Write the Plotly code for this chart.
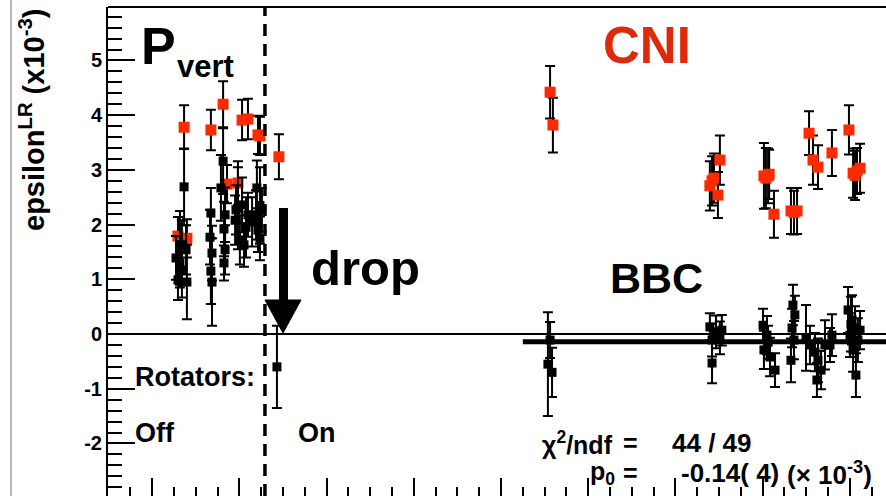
import plotly.graph_objects as go

# ---------------- data ----------------
# CNI (red markers, black error bars)
cni_x = [5.46, 6.69, 7.25, 8.12, 8.39, 8.85, 8.94, 9.81, 7.43, 7.93,
         5.18, 5.59, 22.25, 22.38, 29.58, 29.68, 29.77, 30.04, 29.95, 32.06,
         32.25, 32.52, 33.30, 33.44, 33.58, 34.13, 34.31, 34.54, 35.18, 35.96,
         36.15, 36.24, 36.47, 32.15, 32.30, 36.33]
cni_y = [3.78, 3.73, 4.20, 3.91, 3.93, 3.64, 3.62, 3.24, 2.74, 2.76,
         1.79, 1.75, 4.42, 3.82, 2.71, 2.80, 2.85, 3.18, 2.54, 2.89,
         2.89, 2.19, 2.25, 2.22, 2.25, 3.67, 3.18, 3.05, 3.31, 3.73,
         2.94, 2.90, 3.03, 2.85, 2.92, 2.98]
cni_err = [0.40, 0.37, 0.42, 0.37, 0.37, 0.35, 0.35, 0.41, 0.35, 0.40,
           0.35, 0.35, 0.48, 0.50, 0.45, 0.45, 0.45, 0.45, 0.42, 0.60,
           0.50, 0.43, 0.42, 0.40, 0.42, 0.40, 0.45, 0.40, 0.42, 0.45,
           0.45, 0.45, 0.45, 0.55, 0.45, 0.42]

# BBC (black markers)
bbc_x = [5.46, 5.09, 5.36, 5.55, 5.18, 5.59, 5.36, 5.27, 5.27,
         6.69, 6.65, 6.74, 6.69, 6.74,
         7.25, 7.15, 7.34, 7.29, 7.34, 7.29,
         7.84, 8.12, 7.80, 8.39, 8.30, 8.02, 8.21, 8.76, 9.03, 8.85, 8.94, 8.80, 8.58, 7.93, 8.94,
         9.72,
         22.15, 22.34, 22.25,
         29.58, 29.86, 30.13, 29.68, 30.04, 29.68,
         32.02, 32.20, 32.06, 32.34, 32.57, 32.25,
         33.39, 33.48, 33.35, 33.44, 33.30,
         33.99, 34.17, 34.40, 34.54, 34.68, 34.49, 34.86,
         35.18, 35.09,
         35.92, 36.10, 36.24, 36.01, 36.37, 36.15, 36.28, 36.47, 36.05]
bbc_y = [2.69, 1.39, 1.63, 1.54, 0.99, 0.95, 1.17, 1.30, 1.55,
         2.21, 1.77, 1.48, 1.15, 0.95,
         3.16, 2.67, 2.18, 1.92, 1.54, 1.30,
         2.27, 2.36, 2.08, 2.18, 1.95, 1.72, 1.63, 2.18, 2.27, 1.90, 1.75, 2.67, 2.05, 2.30, 2.35,
         -0.60,
         -0.55, -0.70, -0.11,
         0.13, 0.04, 0.07, -0.11, -0.07, -0.53,
         0.16, -0.02, -0.29, -0.42, -0.66, -0.15,
         0.53, 0.35, 0.11, -0.11, -0.48,
         -0.07, -0.20, -0.33, -0.48, -0.66, -0.84, -0.20,
         -0.02, -0.20,
         0.44, 0.26, 0.11, -0.02, -0.11, -0.29, -0.75, 0.07, 0.18]
bbc_err = [0.70, 0.40, 0.45, 0.45, 0.37, 0.68, 0.50, 0.40, 0.70,
           0.46, 0.50, 0.50, 0.60, 0.80,
           0.60, 0.60, 0.50, 0.50, 0.45, 0.32,
           0.45, 0.50, 0.45, 0.40, 0.55, 0.45, 0.40, 0.45, 0.40, 0.40, 0.40, 0.50, 0.45, 0.75, 0.70,
           0.75,
           0.95, 0.45, 0.33,
           0.25, 0.30, 0.28, 0.30, 0.30, 0.37,
           0.30, 0.35, 0.35, 0.35, 0.31, 0.30,
           0.37, 0.35, 0.35, 0.35, 0.40,
           0.60, 0.35, 0.35, 0.40, 0.35, 0.31, 0.45,
           0.38, 0.31,
           0.42, 0.45, 0.40, 0.40, 0.40, 0.40, 0.40, 0.35, 0.50]

fit_p0 = -0.14
fit_x = [21.0, 37.7]
rotator_switch_x = 9.17

y_ticks = [-2, -1, 0, 1, 2, 3, 4, 5]

# ---------------- layout helpers (pixel -> paper) ----------------
W, H = 886, 496
ML, MR, MT, MB = 108, 0, 7, 0
PW, PH = W - ML - MR, H - MT - MB


def PX(px):
    return (px - ML) / PW


def PY(py):
    return 1 - (py - MT) / PH


RED = "#ff2a00"
FONT = "Liberation Sans"

fig = go.Figure()

fig.add_trace(go.Scatter(
    x=cni_x, y=cni_y, mode="markers",
    marker=dict(symbol="square", size=11, color=RED, line=dict(width=0)),
    error_y=dict(type="data", array=cni_err, color="black", thickness=2, width=5),
    showlegend=False, hoverinfo="skip"))

fig.add_trace(go.Scatter(
    x=bbc_x, y=bbc_y, mode="markers",
    marker=dict(symbol="square", size=9, color="black", line=dict(width=0)),
    error_y=dict(type="data", array=bbc_err, color="black", thickness=2, width=5),
    showlegend=False, hoverinfo="skip"))

fig.add_trace(go.Scatter(
    x=fit_x, y=[fit_p0, fit_p0], mode="lines",
    line=dict(color="black", width=5),
    showlegend=False, hoverinfo="skip"))

shapes = [
    # top frame line
    dict(type="line", xref="paper", yref="paper", x0=0, x1=1, y0=1, y1=1,
         line=dict(color="black", width=2)),
    # left thin grey border
    dict(type="line", xref="paper", yref="paper", x0=PX(11), x1=PX(11), y0=0, y1=1.02,
         line=dict(color="#a0a0a0", width=1.5)),
    # dashed rotator line
    dict(type="line", xref="x", yref="paper", x0=rotator_switch_x, x1=rotator_switch_x,
         y0=0, y1=1, line=dict(color="black", width=3.5, dash="12px,8px")),
    # arrow shaft
    dict(type="rect", xref="paper", yref="paper", x0=PX(279), x1=PX(288),
         y0=PY(301), y1=PY(208), fillcolor="black", line=dict(width=0)),
    # arrow head
    dict(type="path", xref="paper", yref="paper",
         path=f"M {PX(265)},{PY(300)} L {PX(301)},{PY(300)} L {PX(283)},{PY(333)} Z",
         fillcolor="black", line=dict(color="black", width=1)),
]


def txt(s, px, py, size, color="black", bold=True, anchor="left"):
    return dict(text=s, xref="paper", yref="paper", x=PX(px), y=PY(py),
                xanchor=anchor, yanchor="middle", showarrow=False,
                font=dict(family=FONT, size=size, color=color,
                          weight="bold" if bold else "normal"))


annotations = [
    txt("P", 139, 46, 52),
    txt("vert", 175, 66, 31),
    txt("CNI", 601, 45, 51, color="#dd2a0a"),
    txt("drop", 309, 268, 49),
    txt("BBC", 608, 278, 43),
    txt("Rotators:", 133, 377, 27),
    txt("Off", 133, 433, 27),
    txt("On", 296, 433, 27),
    txt("\u03c7<sup>2</sup>/ndf", 540, 443, 25),
    txt("=", 621, 443, 25),
    txt("44 / 49", 670, 443, 26),
    txt("p<sub>0</sub>", 588, 473, 25),
    txt("=", 621, 473, 25),
    txt("-0.14( 4)", 679, 473, 26),
    txt("(\u00d7 10<sup>-3</sup>)", 785, 473, 26),
    dict(text="epsilon<sup>LR</sup> (x10<sup>-3</sup>)", xref="paper", yref="paper",
         x=PX(32), y=PY(120), xanchor="center", yanchor="middle", textangle=-90,
         showarrow=False, font=dict(family=FONT, size=29, color="black", weight="bold")),
]

fig.update_layout(
    width=W, height=H,
    margin=dict(l=ML, r=MR, t=MT, b=MB, autoexpand=False),
    paper_bgcolor="white", plot_bgcolor="white",
    shapes=shapes, annotations=annotations,
    xaxis=dict(range=[1.97, 37.66], showgrid=False, zeroline=False, showline=False,
               ticks="inside", tick0=0, dtick=4, ticklen=18, tickwidth=2, tickcolor="black",
               showticklabels=False,
               minor=dict(ticks="inside", dtick=1, ticklen=9, tickwidth=2, tickcolor="black")),
    yaxis=dict(range=[-2.96, 5.977], showgrid=False, zeroline=True, zerolinecolor="black",
               zerolinewidth=2, showline=True, linecolor="black", linewidth=2,
               ticks="inside", tickmode="array", tickvals=y_ticks, ticktext=[str(v) for v in y_ticks],
               ticklen=27, tickwidth=2, tickcolor="black",
               tickfont=dict(family=FONT, size=20, color="black", weight="bold"),
               minor=dict(ticks="inside", dtick=0.2, tick0=0, ticklen=14, tickwidth=2,
                          tickcolor="black")),
    showlegend=False,
)

fig.write_html("out.html", config={"displayModeBar": False},
               post_script="document.body.style.margin='0px';")
